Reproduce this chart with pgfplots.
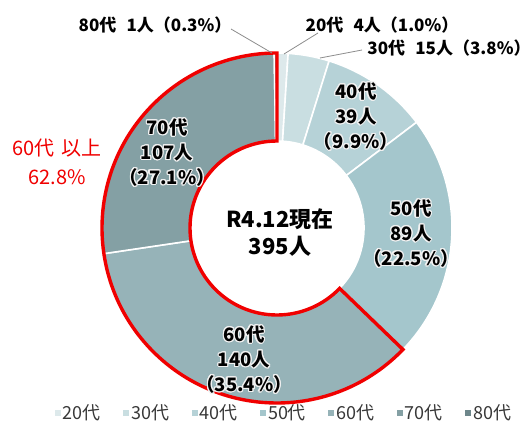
\documentclass[border=0pt]{standalone}
\usepackage{fontspec}
\setmainfont{Noto Sans CJK JP}
\usepackage{pgfplots}
\usepackage{pgfplotstable}
\usepackage{contour}
\contourlength{1.1pt}
\contournumber{16}
\pgfplotsset{compat=1.18}

\definecolor{c20}{HTML}{DDE9EB}
\definecolor{c30}{HTML}{C9DEE1}
\definecolor{c40}{HTML}{B6D2D7}
\definecolor{c50}{HTML}{A4C6CC}
\definecolor{c60}{HTML}{96B3B8}
\definecolor{c70}{HTML}{84A0A4}
\definecolor{c80}{HTML}{6E878B}
\definecolor{myred}{HTML}{F00000}
\definecolor{leader}{HTML}{8C8C8C}
\newcommand{\g}[1]{\contour{white!90!gray}{#1}}

\pgfplotstableread{
age val col
20 4 c20
30 15 c30
40 39 c40
50 89 c50
60 140 c60
70 107 c70
80 1 c80
}\agedata

\begin{document}
\begin{tikzpicture}
\begin{axis}[
  scale only axis, width=530pt, height=433pt,
  xmin=0, xmax=530, ymin=0, ymax=433, y dir=reverse,
  hide axis, clip=false,
  legend columns=7,
  legend style={at={(axis cs:284,413)}, anchor=center, draw=none, fill=none,
    font=\fontsize{18}{20}\selectfont, text=black!78,
    /tikz/every even column/.append style={column sep=20.5pt}},
  legend image code/.code={\fill[#1, draw=none] (3pt,-3pt) rectangle (9pt,3pt);},
]
\path (axis cs:0,0) rectangle (axis cs:530,433);
\def\cx{277}\def\cy{228}\def\R{175}\def\r{87}
\def\cum{0}
\pgfplotsforeachungrouped \i in {0,...,6}{%
  \pgfplotstablegetelem{\i}{val}\of\agedata \let\v\pgfplotsretval
  \pgfplotstablegetelem{\i}{col}\of\agedata \let\c\pgfplotsretval
  \pgfmathsetmacro\ts{90-\cum/395*360}%
  \pgfmathsetmacro\cum{\cum+\v}%
  \pgfmathsetmacro\te{90-\cum/395*360}%
  \ifnum\i=3 \global\let\tred\te\fi
  \edef\temp{\noexpand\fill[\c, draw=white, line width=1.6pt]
    (axis cs:{\cx+\R*cos(\ts)},{\cy-\R*sin(\ts)})
    arc[start angle=\ts, end angle=\te, radius=\R pt]
    -- (axis cs:{\cx+\r*cos(\te)},{\cy-\r*sin(\te)})
    arc[start angle=\te, end angle=\ts, radius=\r pt] -- cycle;}%
  \temp
}
\edef\temp{\noexpand\draw[myred, line width=3.4pt]
  (axis cs:{\cx+\R*cos(\tred)},{\cy-\R*sin(\tred)})
  arc[start angle=\tred, end angle=-270, radius=\R pt]
  -- (axis cs:{\cx+\r*cos(-270)},{\cy-\r*sin(-270)})
  arc[start angle=-270, end angle=\tred, radius=\r pt] -- cycle;}
\temp

\addplot[leader, line width=0.8pt, forget plot] coordinates {(231,29) (272,53)};
\addplot[leader, line width=0.8pt, forget plot] coordinates {(318,33) (284,54)};
\addplot[leader, line width=0.8pt, forget plot] coordinates {(362,50) (320,58)};

\tikzset{lab/.style={inner sep=0pt, font=\bfseries\fontsize{17}{20}\selectfont}}
\node[lab] at (axis cs:155,25) {80代\hspace{0.6em}1人（0.3\%）};
\node[lab] at (axis cs:382,25) {20代\hspace{0.6em}4人（1.0\%）};
\node[lab] at (axis cs:449,48) {30代\hspace{0.6em}15人（3.8\%）};

\tikzset{blk/.style={inner sep=0pt, align=center, font=\bfseries\fontsize{18.5}{25}\selectfont}}
\node[blk] at (axis cs:356,117) {\g{40代}\\\g{39人}\\\g{（9.9\%）}};
\node[blk] at (axis cs:411,234) {\g{50代}\\\g{89人}\\\g{（22.5\%）}};
\node[blk] at (axis cs:244,360) {\g{60代}\\\g{140人}\\\g{（35.4\%）}};
\node[blk] at (axis cs:167,153) {\g{70代}\\\g{107人}\\\g{（27.1\%）}};
\node[inner sep=0pt, font=\bfseries\fontsize{22}{27}\selectfont, align=center] at (axis cs:280,233) {R4.12現在\\395人};
\node[inner sep=0pt, font=\fontsize{20}{29}\selectfont, text=myred, align=center] at (axis cs:57,162) {60代\hspace{0.35em}以上\\62.8\%};

\addlegendimage{fill=c20}\addlegendentry{20代}
\addlegendimage{fill=c30}\addlegendentry{30代}
\addlegendimage{fill=c40}\addlegendentry{40代}
\addlegendimage{fill=c50}\addlegendentry{50代}
\addlegendimage{fill=c60}\addlegendentry{60代}
\addlegendimage{fill=c70}\addlegendentry{70代}
\addlegendimage{fill=c80}\addlegendentry{80代}
\end{axis}
\pgfresetboundingbox
\path[use as bounding box] (current axis.south west) rectangle (current axis.north east);
\end{tikzpicture}
\end{document}
